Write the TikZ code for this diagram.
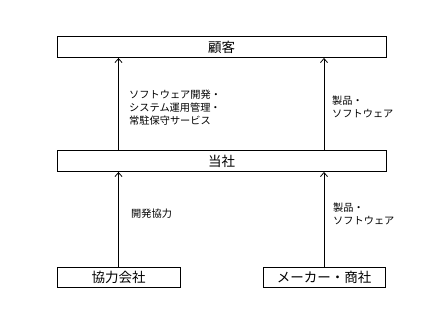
\documentclass[tikz,border=0pt]{standalone}
\usepackage{fontspec}
\newfontfamily\jpfont{Noto Sans CJK JP}
\usetikzlibrary{arrows.meta,positioning}

\begin{document}
\begin{tikzpicture}[
    x=1pt,y=1pt,
    box/.style={draw,line width=0.9pt,minimum height=21pt,inner sep=0pt,font=\jpfont\fontsize{13.5}{15}\selectfont},
    label/.style={anchor=west,align=left,inner sep=0pt,font=\jpfont\fontsize{10.2}{13}\selectfont},
    arrow/.style={-{Straight Barb[length=4pt,width=7pt]},line width=0.8pt}
  ]
    \useasboundingbox (0,0) rectangle (430,328);
    \node[box,minimum width=329pt] (client) at (221.5,281) {顧客};
    \node[box,minimum width=329pt] (company) at (221.5,167) {当社};
    \node[box,minimum width=123pt,minimum height=20pt] (partner) at (118.5,51) {協力会社};
    \node[box,minimum width=122pt,minimum height=20pt] (maker) at (324,51) {メーカー・商社};
    \draw[arrow] (partner) -- (partner |- company.south);
    \draw[arrow] (maker) -- (maker |- company.south);
    \draw[arrow] (partner |- company.north) -- (partner |- client.south);
    \draw[arrow] (maker |- company.north) -- (maker |- client.south);
    \node[label] (service) at (129,220) {ソフトウェア開発・\\システム運用管理・\\常駐保守サービス};
    \node[label] (sales) at (332,221) {製品・\\ソフトウェア};
    \node[label] (develop) at (131,114) {開発協力};
    \node[label] (supply) at (333,114) {製品・\\ソフトウェア};
  \end{tikzpicture}
\end{document}
